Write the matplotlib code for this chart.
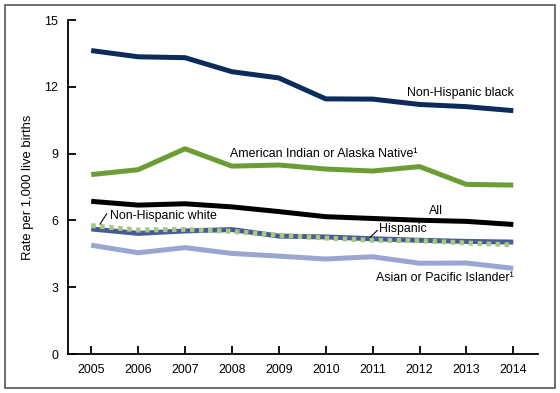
import matplotlib.pyplot as plt
from matplotlib.patches import Rectangle

plt.rcParams['font.family'] = ['Liberation Sans', 'DejaVu Sans']

years = [2005, 2006, 2007, 2008, 2009, 2010, 2011, 2012, 2013, 2014]
nh_black = [13.63, 13.35, 13.31, 12.68, 12.40, 11.46, 11.45, 11.21, 11.11, 10.93]
aian = [8.06, 8.28, 9.22, 8.44, 8.49, 8.31, 8.22, 8.42, 7.62, 7.59]
all_races = [6.86, 6.69, 6.75, 6.61, 6.40, 6.17, 6.09, 6.01, 5.96, 5.82]
hispanic = [5.62, 5.42, 5.53, 5.59, 5.30, 5.26, 5.18, 5.11, 5.06, 5.03]
nh_white = [5.77, 5.57, 5.60, 5.51, 5.34, 5.21, 5.11, 5.09, 4.99, 4.90]
api = [4.89, 4.55, 4.78, 4.52, 4.40, 4.27, 4.37, 4.08, 4.09, 3.85]

fig = plt.figure(figsize=(5.6, 3.93), dpi=100)
ax = fig.add_axes([0.121, 0.099, 0.840, 0.850])

lw = 3.6
ax.plot(years, nh_black, color='#0b2c5b', lw=lw, solid_capstyle='butt')
ax.plot(years, aian, color='#6a9e35', lw=lw, solid_capstyle='butt')
ax.plot(years, all_races, color='#000000', lw=lw, solid_capstyle='butt')
ax.plot(years, api, color='#98a6d0', lw=lw, solid_capstyle='butt')
ax.plot(years, hispanic, color='#4a5a98', lw=lw, solid_capstyle='butt')
ax.plot(years, nh_white, color='#a5c97e', lw=lw, ls=(0, (0.9, 0.9)))

ax.set_xlim(2004.5, 2014.53)
ax.set_ylim(0, 15)
ax.set_yticks([0, 3, 6, 9, 12, 15])
ax.set_xticks(years)
ax.spines['top'].set_visible(False)
ax.spines['right'].set_visible(False)
ax.spines['left'].set_linewidth(1.3)
ax.spines['bottom'].set_linewidth(1.3)
ax.tick_params(direction='in', length=6, width=1.3, labelsize=8.9, pad=7)
ax.set_ylabel('Rate per 1,000 live births', fontsize=9.4, labelpad=7)

fs = 8.9
ax.text(2014, 11.72, 'Non-Hispanic black', ha='right', va='center', fontsize=fs)
ax.text(2007.96, 9.0, 'American Indian or Alaska Native¹', ha='left', va='center', fontsize=fs)
ax.text(2012.36, 6.42, 'All', ha='center', va='center', fontsize=fs)
ax.text(2011.13, 5.62, 'Hispanic', ha='left', va='center', fontsize=fs)
ax.plot([2010.95, 2011.1], [5.25, 5.55], color='black', lw=0.8)
ax.text(2005.4, 6.18, 'Non-Hispanic white', ha='left', va='center', fontsize=fs)
ax.plot([2005.19, 2005.33], [5.84, 6.3], color='black', lw=0.8)
ax.text(2014, 3.42, 'Asian or Pacific Islander¹', ha='right', va='center', fontsize=fs)

fig.patches.append(Rectangle((0.009, 0.013), 0.982, 0.974, transform=fig.transFigure,
                             fill=False, edgecolor='#555555', lw=1.2))

fig.savefig('out.png', dpi=100)
